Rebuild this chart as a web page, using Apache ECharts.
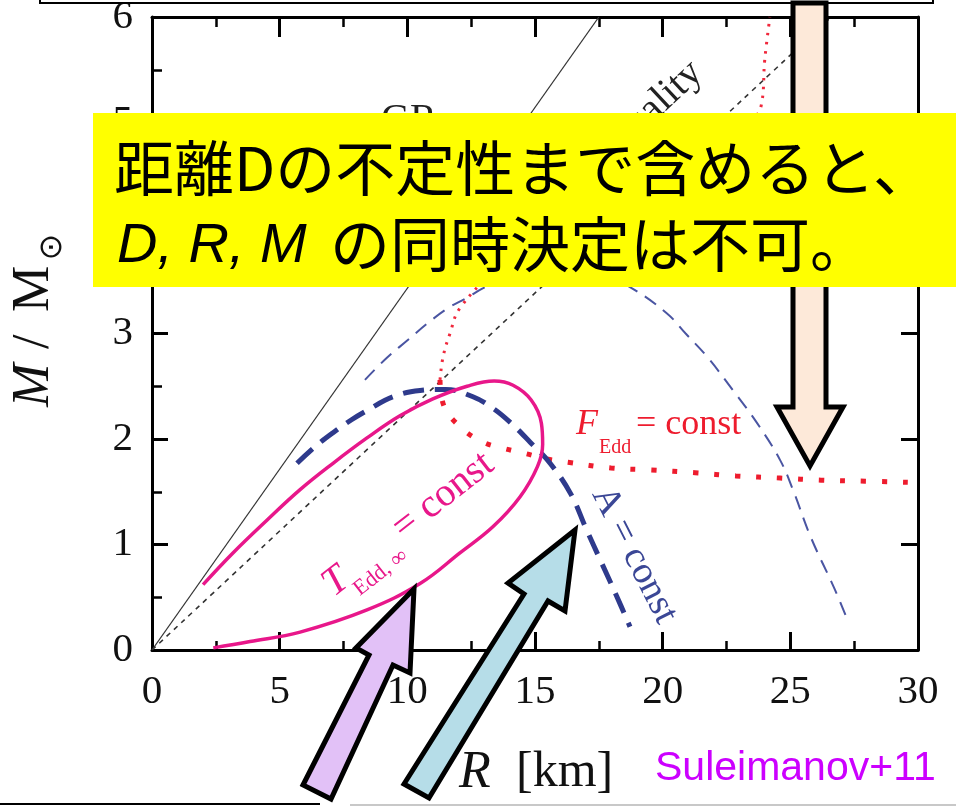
<!DOCTYPE html>
<html lang="ja">
<head>
<meta charset="UTF-8">
<title>M-R constraints (Suleimanov+11)</title>
<style>
  * { margin: 0; padding: 0; }
  html, body, #chart { width: 956px; height: 806px; overflow: hidden; background: #fff; }
</style>
</head>
<body>
<div id="chart"></div>
<script src="https://cdn.jsdelivr.net/npm/echarts@6.0.0/dist/echarts.min.js"></script>
<script>
// [R km, M / Msun]
let grLimit = [[0, 0], [17.5, 6]];
let causalityLimit = [[0, 0], [26.6, 6]];
let aConstFar = [
    [8.34, 2.56], [9.2, 2.77], [10.03, 2.94], [10.81, 3.1], [11.59, 3.24], [12.34, 3.34],
    [12.97, 3.43], [14.2, 3.57], [15.5, 3.63], [16.8, 3.6], [17.9, 3.52], [18.72, 3.44],
    [20.17, 3.19], [20.9, 3.0], [21.74, 2.78], [22.76, 2.46], [23.7, 2.15], [24.6, 1.8],
    [25.1, 1.52], [25.8, 1.07], [26.75, 0.57], [27.26, 0.27]
];
let aConst = [
    [5.68, 1.77], [6.4, 1.93], [7.09, 2.06], [7.8, 2.18], [8.42, 2.27], [9.44, 2.4],
    [10.5, 2.46], [11.5, 2.47], [12.57, 2.4], [13.36, 2.29], [14.02, 2.16], [14.81, 1.97],
    [15.59, 1.77], [16.4, 1.48], [17.0, 1.15], [17.6, 0.83], [18.2, 0.51], [18.72, 0.22]
];
let tEddLoop = [
    [2.0, 0.62], [3.17, 0.92], [4.5, 1.23], [5.8, 1.52], [7.09, 1.77], [8.42, 2.01],
    [9.71, 2.22], [11.0, 2.38], [12.34, 2.5], [13.4, 2.55], [14.14, 2.51], [14.85, 2.37],
    [15.25, 2.15], [15.3, 1.95], [15.1, 1.74], [14.41, 1.45], [13.36, 1.17], [12.06, 0.92],
    [10.5, 0.63], [8.42, 0.38], [5.8, 0.17], [3.84, 0.08], [2.4, 0.02]
];
let fEddLower = [
    [11.28, 2.56], [11.44, 2.31], [12.14, 2.1], [12.97, 1.97], [13.79, 1.91], [14.65, 1.86],
    [15.47, 1.81], [16.29, 1.78], [17.98, 1.725], [19.55, 1.706], [21.27, 1.68],
    [22.87, 1.65], [24.6, 1.63], [26.2, 1.61], [27.93, 1.6], [29.6, 1.59]
];
let fEddUpper = [
    [11.28, 2.56], [11.4, 2.78], [11.67, 3.0], [12.06, 3.24], [13.5, 3.6], [17, 4.2],
    [21, 4.75], [23.3, 5.0], [23.85, 5.15], [24.0, 5.6], [24.2, 6.0]
];
let xRange = [0, 30];
let yRange = [0, 6];

const serif = 'Liberation Serif';
const cjk = 'Noto Sans CJK JP';

let chart = echarts.init(document.getElementById('chart'), null, { renderer: 'canvas' });

function axisBase(extra) {
    return Object.assign({
        type: 'value',
        axisLine: { onZero: false, lineStyle: { color: '#000', width: 3 } },
        axisTick: { inside: true, length: 17, lineStyle: { color: '#000', width: 3 } },
        splitLine: { show: false },
        axisLabel: { show: false }
    }, extra);
}

let tickLabel = { show: true, fontFamily: serif, fontSize: 41, color: '#111' };

function line(data, color, width, type, z) {
    return {
        type: 'line', data: data, showSymbol: false, smooth: 0.4, silent: true, z: z || 2,
        lineStyle: { color: color, width: width, type: type || 'solid' }
    };
}

function label(x, y, text, font, color, o) {
    return Object.assign({
        type: 'text', x: x, y: y, z: 60, silent: true,
        style: { text: text, font: font, fill: color, verticalAlign: 'middle', align: 'left' }
    }, o || {});
}

function arrow(points, fill, z) {
    return {
        type: 'polygon', z: z, silent: true,
        shape: { points: points },
        style: { fill: fill, stroke: '#000', lineWidth: 5, lineJoin: 'miter' }
    };
}

let option = {
    animation: false,
    backgroundColor: '#fff',
    grid: { left: 152, right: 38, top: 17, bottom: 156, outerBoundsMode: 'none' },
    xAxis: [
        axisBase({
            min: xRange[0], max: xRange[1], interval: 5, position: 'bottom',
            axisTick: { inside: true, length: 18, lineStyle: { color: '#000', width: 3 } },
            minorTick: { show: true, splitNumber: 2, length: 9, lineStyle: { color: '#000', width: 2.5 } },
            axisLabel: Object.assign({ margin: 22 }, tickLabel)
        }),
        axisBase({
            min: xRange[0], max: xRange[1], interval: 5, position: 'top',
            axisTick: { inside: true, length: 20, lineStyle: { color: '#000', width: 3 } },
            minorTick: { show: true, splitNumber: 2, length: 10, lineStyle: { color: '#000', width: 2.5 } }
        })
    ],
    yAxis: [
        axisBase({
            min: yRange[0], max: yRange[1], interval: 1, position: 'left',
            axisTick: { inside: true, length: 16, lineStyle: { color: '#000', width: 3 } },
            minorTick: { show: true, splitNumber: 2, length: 10, lineStyle: { color: '#000', width: 2.5 } },
            axisLabel: Object.assign({ margin: 19 }, tickLabel)
        }),
        axisBase({
            min: yRange[0], max: yRange[1], interval: 1, position: 'right',
            axisTick: { inside: true, length: 17, lineStyle: { color: '#000', width: 3 } }
        })
    ],
    series: [
        line(grLimit, '#333', 1.3),
        line(causalityLimit, '#333', 1.6, [5, 5]),
        line(aConstFar, '#4a55a2', 2, [14, 9]),
        line(fEddUpper, '#f0283c', 3, [2.5, 6.5]),
        line(fEddLower, '#ee1c2e', 5, [5, 16]),
        line(aConst, '#2e3a8c', 5, [21, 11], 3),
        line(tEddLoop, '#e8178a', 3.5, 'solid', 4)
    ],
    graphic: [
        // top text box edge
        { type: 'rect', z: 80, silent: true, shape: { x: 40, y: -20, width: 893, height: 23 },
          style: { fill: '#fff', stroke: '#000', lineWidth: 2 } },
        // curve labels, mostly under the yellow box
        label(381, 120, 'GR', '40px ' + serif, '#222', { z: 50 }),
        { type: 'text', x: 645, y: 116, z: 50, silent: true, rotation: 43 * Math.PI / 180,
          style: { text: 'causality', font: '40px ' + serif, fill: '#222', align: 'center', verticalAlign: 'middle' } },
        // peach arrow (under the box)
        arrow([[793, 3], [826, 3], [826, 407], [843, 407], [810, 466], [777, 407], [793, 407]], '#fde9d9', 90),
        // yellow box with comment
        { type: 'rect', z: 100, silent: true, shape: { x: 93, y: 113, width: 880, height: 174 },
          style: { fill: '#ffff00' } },
        label(114, 168, '距離Dの不定性まで含めると、', '60px ' + cjk, '#000', { z: 101 }),
        label(117, 246, 'D, R, M', 'italic 56px Liberation Sans', '#000', { z: 101 }),
        label(330, 244, 'の同時決定は不可。', '60px ' + cjk, '#000', { z: 101 }),
        // F_Edd = const
        label(576, 425, 'F', 'italic 36px ' + serif, '#ee1c2e'),
        label(599, 448, 'Edd', '20px ' + serif, '#ee1c2e'),
        label(636, 425, '= const', '36px ' + serif, '#ee1c2e'),
        // T_Edd,inf = const
        { type: 'group', x: 336, y: 600, rotation: 38 * Math.PI / 180, z: 60, silent: true,
          children: [
            { type: 'text', x: 0, y: -14, style: { text: 'T', font: 'italic 40px ' + serif, fill: '#e8178a', verticalAlign: 'middle' } },
            { type: 'text', x: 21, y: 6, style: { text: 'Edd, ∞', font: '22px ' + serif, fill: '#e8178a', verticalAlign: 'middle' } },
            { type: 'text', x: 90, y: -16, style: { text: '= const', font: '40px ' + serif, fill: '#e8178a', verticalAlign: 'middle' } }
          ] },
        // A = const
        { type: 'group', x: 589, y: 495, rotation: -63 * Math.PI / 180, z: 60, silent: true,
          children: [
            { type: 'text', x: 0, y: -13, style: { text: 'A = const', font: '38px ' + serif, fill: '#3b4796', verticalAlign: 'middle' } }
          ] },
        // axis names
        { type: 'group', x: 52, y: 407, rotation: Math.PI / 2, z: 60, silent: true,
          children: [
            { type: 'text', x: 0, y: -18, style: { text: 'M', font: 'italic 52px ' + serif, fill: '#111', verticalAlign: 'middle' } },
            { type: 'text', x: 58, y: -18, style: { text: '/', font: '52px ' + serif, fill: '#111', verticalAlign: 'middle' } },
            { type: 'text', x: 95, y: -18, style: { text: 'M', font: '52px ' + serif, fill: '#111', verticalAlign: 'middle' } },
            { type: 'text', x: 160, y: 1, style: { text: '⊙', font: '32px DejaVu Sans', fill: '#111', align: 'center', verticalAlign: 'middle' } }
          ] },
        label(459, 773, 'R', 'italic 52px ' + serif, '#111'),
        label(516, 773, '[km]', '50px ' + serif, '#111'),
        label(655, 769, 'Suleimanov+11', '41px Liberation Sans', '#cc00ff'),
        // overlay arrows
        arrow([[414, 589], [410, 673], [393, 665], [331, 799], [303, 785], [369, 655], [356, 648]], '#e2c1f7', 110),
        arrow([[575, 530], [565, 611], [548, 601], [429, 798], [404, 784], [524, 594], [508, 583]], '#b6dde8', 110),
        // slide borders at the bottom
        { type: 'line', z: 120, silent: true, shape: { x1: 0, y1: 804, x2: 320, y2: 804 },
          style: { stroke: '#000', lineWidth: 2 } },
        { type: 'line', z: 120, silent: true, shape: { x1: 350, y1: 805, x2: 956, y2: 805 },
          style: { stroke: '#c8c8c8', lineWidth: 2 } }
    ]
};

chart.setOption(option);
</script>
</body>
</html>
